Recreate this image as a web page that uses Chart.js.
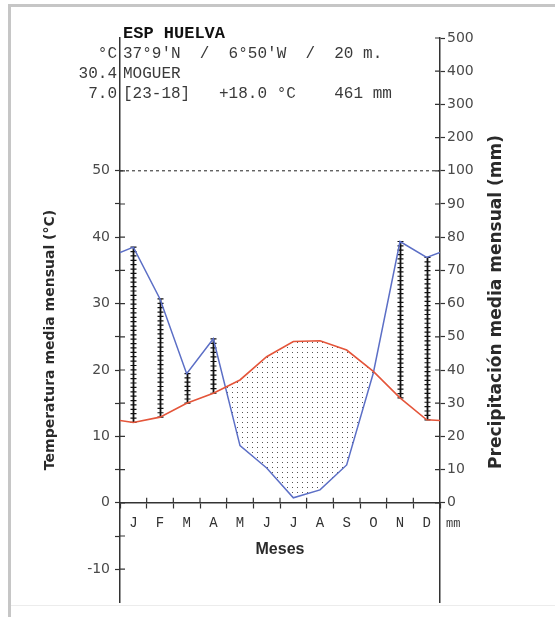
<!DOCTYPE html>
<html>
<head>
<meta charset="utf-8">
<script src="https://cdn.jsdelivr.net/npm/chart.js@4.4.1/dist/chart.umd.min.js"></script>
<style>
    html, body { margin: 0; padding: 0; background: #fff; }
    #wrap { position: relative; width: 555px; height: 617px; overflow: hidden; }
    #frame { position: absolute; left: 8px; top: 4px; width: 600px; height: 700px; border-left: 3px solid #c6c6c6; border-top: 3px solid #c6c6c6; }
    #foot { position: absolute; left: 11px; top: 605px; width: 560px; height: 1px; background: #ececec; }
    canvas { position: absolute; left: 0; top: 0; }
</style>
</head>
<body>
<div id="wrap">
    <div id="frame"></div>
    <div id="foot"></div>
    <canvas id="myChart" width="555" height="617"></canvas>
</div>
<script>
// station header
const station = 'ESP HUELVA';
const coords = "37°9'N  /  6°50'W  /  20 m.";
const place = 'MOGUER';
const summary = '[23-18]   +18.0 °C    461 mm';
const maxWarm = '30.4';
const minCold = '7.0';

// monthly means
const months = ['J', 'F', 'M', 'A', 'M', 'J', 'J', 'A', 'S', 'O', 'N', 'D'];
const temp = [12.1, 12.9, 15.0, 16.5, 18.5, 22.0, 24.3, 24.4, 23.0, 19.8, 15.8, 12.5];
const prec = [77, 61.4, 38.9, 49.4, 17.2, 10.5, 1.5, 3.9, 11.4, 39.1, 78.7, 73.9];
// values where the lines meet the left / right frame
const tempEdge = [12.4, 12.4];
const precEdge = [75.4, 75.4];

const tempTicks = [-10, -5, 0, 5, 10, 15, 20, 25, 30, 35, 40, 45, 50];
const precTicks = [0, 10, 20, 30, 40, 50, 60, 70, 80, 90, 100, 200, 300, 400, 500];
const limit = 50;

// Walter-Lieth: 10 mm = 5 °C up to 100 mm, then compressed 1/10
function toT(p) {
    return p <= 100 ? p / 2 : 50 + (p - 100) / 20;
}

function series(edge, vals, conv) {
    let pts = [{ x: 0, y: conv(edge[0]) }];
    vals.forEach((v, i) => pts.push({ x: i + 0.5, y: conv(v) }));
    pts.push({ x: months.length, y: conv(edge[1]) });
    return pts;
}

function dotPattern() {
    let c = document.createElement('canvas');
    c.width = 5; c.height = 5;
    let g = c.getContext('2d');
    g.fillStyle = '#555';
    g.fillRect(2, 2, 1, 1);
    return g.createPattern(c, 'repeat');
}

const AXIS = '#333';
const LABEL = '#4a4a4a';

const climate = {
    id: 'climate',
    beforeDatasetsDraw(chart) {
        // humid months: vertical hatch with cross ticks
        const ctx = chart.ctx, xs = chart.scales.x, ys = chart.scales.y;
        ctx.save();
        ctx.strokeStyle = '#111';
        for (let i = 0; i < months.length; i++) {
            let p = toT(prec[i]);
            if (p <= temp[i]) continue;
            let x = Math.round(xs.getPixelForValue(i + 0.5)) + 0.5;
            let yTop = ys.getPixelForValue(p);
            let yBot = ys.getPixelForValue(temp[i]);
            ctx.lineWidth = 1.8;
            ctx.beginPath(); ctx.moveTo(x, yBot); ctx.lineTo(x, yTop); ctx.stroke();
            let n = Math.max(1, Math.round((yBot - yTop) / 4.4));
            let step = (yBot - yTop) / n;
            ctx.lineWidth = 1.2;
            ctx.beginPath();
            for (let k = 0; k <= n; k++) {
                let y = yBot - k * step;
                ctx.moveTo(x - 3, y); ctx.lineTo(x + 3, y);
            }
            ctx.stroke();
        }
        ctx.restore();
    },
    afterDraw(chart) {
        const ctx = chart.ctx, xs = chart.scales.x, ys = chart.scales.y, y2 = chart.scales.y2;
        const ca = chart.chartArea;
        ctx.save();
        // inner halves of the crossing tick marks
        ctx.strokeStyle = AXIS;
        ctx.lineWidth = 1.2;
        ctx.beginPath();
        ys.ticks.forEach(t => {
            let y = ys.getPixelForValue(t.value);
            ctx.moveTo(ca.left, y); ctx.lineTo(ca.left + 5, y);
        });
        y2.ticks.forEach(t => {
            let y = y2.getPixelForValue(t.value);
            ctx.moveTo(ca.right - 5, y); ctx.lineTo(ca.right, y);
        });
        let y0 = ys.getPixelForValue(0);
        for (let i = 1; i < months.length; i++) {
            let x = xs.getPixelForValue(i);
            ctx.moveTo(x, y0); ctx.lineTo(x, y0 - 5);
        }
        ctx.stroke();

        // header
        ctx.textBaseline = 'middle';
        ctx.fillStyle = '#111';
        ctx.textAlign = 'left';
        ctx.font = 'bold 17px "Liberation Mono"';
        ctx.fillText(station, 123, 34);
        ctx.fillStyle = '#3a3a3a';
        ctx.font = '16px "Liberation Mono"';
        ctx.fillText(coords, 123, 54);
        ctx.fillText(place, 123, 73.5);
        ctx.fillText(summary, 123, 93.5);
        ctx.textAlign = 'right';
        ctx.fillText('°C', 117, 54);
        ctx.fillText(maxWarm, 117, 73.5);
        ctx.fillText(minCold, 117, 93.5);

        ctx.textAlign = 'left';
        ctx.font = '12px "Liberation Mono"';
        ctx.fillText('mm', 446, 524);

        // axis titles
        ctx.fillStyle = '#2a2a2a';
        ctx.textAlign = 'center';
        ctx.font = 'bold 16px "Liberation Sans"';
        ctx.fillText('Meses', (ca.left + ca.right) / 2, 550);

        ctx.font = 'bold 14px "DejaVu Sans"';
        ctx.translate(50, 340);
        ctx.rotate(-Math.PI / 2);
        ctx.fillText('Temperatura media mensual (°C)', 0, 0);
        ctx.setTransform(1, 0, 0, 1, 0, 0);

        ctx.font = 'bold 17px "DejaVu Sans"';
        ctx.translate(497, 302);
        ctx.rotate(-Math.PI / 2);
        ctx.fillText('Precipitación media mensual (mm)', 0, 0);
        ctx.restore();
    }
};

function plot() {
    var ctx = document.getElementById('myChart');
    var chart = new Chart(ctx, {
        type: 'line',
        data: {
            datasets: [
                {
                    label: 'Temperatura',
                    data: series(tempEdge, temp, v => v),
                    borderColor: '#e4553a',
                    borderWidth: 1.6,
                    pointRadius: 0,
                    fill: false
                },
                {
                    label: 'Precipitación',
                    data: series(precEdge, prec, toT),
                    borderColor: '#5c6fc6',
                    borderWidth: 1.5,
                    pointRadius: 0,
                    fill: { target: 0, above: 'rgba(0,0,0,0)', below: dotPattern() }
                },
                {
                    label: 'limite',
                    data: [{ x: 0, y: limit }, { x: months.length, y: limit }],
                    borderColor: '#222',
                    borderWidth: 1,
                    borderDash: [3, 3],
                    pointRadius: 0,
                    fill: false
                }
            ]
        },
        options: {
            responsive: false,
            animation: false,
            events: [],
            layout: { padding: { left: 0, right: 0, top: 38, bottom: 14.6 } },
            plugins: { legend: { display: false }, tooltip: { enabled: false } },
            scales: {
                x: {
                    type: 'linear',
                    position: { y: 0 },
                    min: 0,
                    max: months.length,
                    afterBuildTicks: s => {
                        let t = [];
                        for (let i = 0; i < months.length; i++) t.push({ value: i }, { value: i + 0.5 });
                        t.push({ value: months.length });
                        s.ticks = t;
                    },
                    ticks: {
                        autoSkip: false,
                        maxRotation: 0,
                        padding: 7,
                        color: '#333',
                        font: { family: 'Liberation Mono', size: 14 },
                        callback: v => (v % 1 ? months[Math.floor(v)] : '')
                    },
                    grid: {
                        drawOnChartArea: false,
                        tickLength: 5,
                        tickWidth: 1.2,
                        tickColor: c => (c.tick && c.tick.value % 1 === 0 ? AXIS : 'rgba(0,0,0,0)')
                    },
                    border: { color: AXIS, width: 1.5 }
                },
                y: {
                    type: 'linear',
                    position: 'left',
                    min: -15,
                    max: 70,
                    afterBuildTicks: s => { s.ticks = tempTicks.map(v => ({ value: v })); },
                    afterFit: s => { s.width = 120; },
                    ticks: {
                        padding: 5,
                        color: LABEL,
                        font: { family: 'DejaVu Sans', size: 14 },
                        callback: v => (v % 10 === 0 ? String(v) : '')
                    },
                    grid: { drawOnChartArea: false, tickLength: 5, tickWidth: 1.2, tickColor: AXIS },
                    border: { color: AXIS, width: 1.5 }
                },
                y2: {
                    type: 'linear',
                    position: 'right',
                    min: -15,
                    max: 70,
                    afterBuildTicks: s => { s.ticks = precTicks.map(p => ({ value: toT(p), mm: p })); },
                    afterFit: s => { s.width = 115; },
                    ticks: {
                        padding: 2,
                        color: LABEL,
                        font: { family: 'DejaVu Sans', size: 14 },
                        callback: (v, i, t) => String(t[i].mm)
                    },
                    grid: { drawOnChartArea: false, tickLength: 5, tickWidth: 1.2, tickColor: AXIS },
                    border: { color: AXIS, width: 1.5 }
                }
            }
        },
        plugins: [climate]
    });
}
plot();
</script>
</body>
</html>
